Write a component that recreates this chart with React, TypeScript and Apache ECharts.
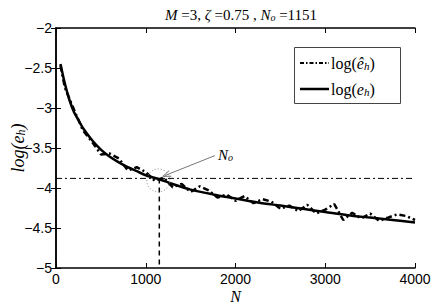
import React, { useEffect, useRef } from 'react';
import * as echarts from 'echarts';

// Smooth curve log(e_h)
const N_SMOOTH = [50, 100, 150, 200, 250, 300, 400, 500, 600, 700, 800, 900, 1000, 1151, 1300, 1500, 1750, 2000, 2250, 2500, 2750, 3000, 3250, 3500, 3750, 4000];
const LOG_EH = [-2.45, -2.70, -2.90, -3.05, -3.15, -3.25, -3.40, -3.52, -3.61, -3.68, -3.74, -3.79, -3.84, -3.89, -3.95, -4.02, -4.08, -4.13, -4.18, -4.22, -4.26, -4.30, -4.34, -4.37, -4.40, -4.43];

// Noisy estimate log(ê_h)
const N_NOISY = [50, 100, 200, 300, 400, 500, 600, 700, 800, 900, 1000, 1100, 1200, 1300, 1400, 1500, 1600, 1700, 1800, 1900, 2000, 2100, 2200, 2300, 2400, 2500, 2600, 2700, 2800, 2900, 3000, 3100, 3200, 3300, 3400, 3500, 3600, 3700, 3800, 3900, 4000];
const LOG_EH_HAT = [-2.47, -2.75, -3.02, -3.28, -3.42, -3.58, -3.57, -3.63, -3.78, -3.74, -3.80, -3.91, -3.87, -3.99, -3.95, -4.05, -3.98, -4.03, -4.12, -4.08, -4.16, -4.10, -4.19, -4.14, -4.17, -4.26, -4.22, -4.29, -4.21, -4.32, -4.27, -4.20, -4.40, -4.31, -4.38, -4.32, -4.41, -4.37, -4.33, -4.35, -4.40];

const N_O = 1151;
const THRESHOLD = -3.88;
const X_MIN = 0, X_MAX = 4000, X_STEP = 1000;
const Y_MIN = -5, Y_MAX = -2, Y_STEP = 0.5;

// annotation anchors (data coords)
const LABEL_POS = [1805, -3.59];
const ARROW_START = [1770, -3.595];
const ARROW_END = [1190, -3.855];

const SERIF = '"Liberation Serif", "DejaVu Serif", serif';
const SANS = '"Liberation Sans", Arial, sans-serif';

export default function App() {
  const ref = useRef<HTMLDivElement>(null);
  useEffect(() => {
    if (!ref.current) return;
    const chart = echarts.init(ref.current, undefined, { renderer: 'svg' });
    const minusFmt = (v: number) => String(v).replace('-', '\u2212');
    const boxAxis = {
      axisLine: { show: true, lineStyle: { color: '#000', width: 1.5 } },
      axisTick: { show: true, inside: true, length: 5, lineStyle: { color: '#000', width: 1 } },
      splitLine: { show: false },
    };
    const it = (size: number) => ({ fontFamily: SERIF, fontStyle: 'italic', fontWeight: 'normal', fontSize: size, color: '#000' });
    const sub = (size: number, lh: number) => ({ ...it(size), verticalAlign: 'bottom', lineHeight: lh });
    chart.setOption({
      animation: false,
      backgroundColor: '#fff',
      title: {
        text: '{i|M} {n|=3,} {i|\u03b6} {n|=0.75 ,} {i|N}{s|o} {n|=1151}',
        left: 236,
        textAlign: 'center',
        top: 2,
        textStyle: {
          fontFamily: SERIF,
          fontSize: 15,
          fontWeight: 'normal',
          color: '#000',
          rich: {
            i: it(15),
            n: { fontFamily: SERIF, fontWeight: 'normal', fontSize: 15, color: '#000' },
            s: sub(10, 10),
          },
        },
      },
      grid: { left: 56, right: 21, top: 28, bottom: 36, outerBoundsMode: 'none', containLabel: false },
      xAxis: [
        {
          type: 'value', min: X_MIN, max: X_MAX, interval: X_STEP, position: 'bottom',
          ...boxAxis,
          axisLabel: { fontFamily: SANS, fontSize: 14, color: '#000', margin: 4, formatter: minusFmt },
          name: '{i|N}', nameLocation: 'middle', nameGap: 20, nameMoveOverlap: false,
          nameTextStyle: { fontSize: 16, rich: { i: it(16) } },
        },
        {
          type: 'value', min: X_MIN, max: X_MAX, interval: X_STEP, position: 'top',
          ...boxAxis, axisLabel: { show: false },
        },
      ],
      yAxis: [
        {
          type: 'value', min: Y_MIN, max: Y_MAX, interval: Y_STEP, position: 'left',
          ...boxAxis,
          axisLabel: { fontFamily: SANS, fontSize: 14, color: '#000', margin: 4, formatter: minusFmt },
          name: '{i|log(e}{s|h}{i|)}', nameLocation: 'middle', nameGap: 29, nameRotate: 90, nameMoveOverlap: false,
          nameTextStyle: {
            fontSize: 18,
            rich: { i: it(18), s: sub(12, 11) },
          },
        },
        {
          type: 'value', min: Y_MIN, max: Y_MAX, interval: Y_STEP, position: 'right',
          ...boxAxis, axisLabel: { show: false },
        },
      ],
      series: [
        {
          type: 'line', name: 'threshold', symbol: 'none',
          data: [[X_MIN, THRESHOLD], [X_MAX, THRESHOLD]],
          lineStyle: { color: '#000', width: 1, type: [6, 3, 2, 3] },
          z: 1,
        },
        {
          type: 'line', name: 'No', symbol: 'none',
          data: [[N_O, THRESHOLD], [N_O, Y_MIN]],
          lineStyle: { color: '#000', width: 1.5, type: [5, 4] },
          z: 1,
        },
        {
          type: 'line', name: 'log(ê_h)', symbol: 'none',
          data: N_NOISY.map((n, i) => [n, LOG_EH_HAT[i]]),
          lineStyle: { color: '#000', width: 2.5, type: [6, 3, 2, 3] },
          z: 2,
        },
        {
          type: 'line', name: 'log(e_h)', symbol: 'none', smooth: 0.3,
          data: N_SMOOTH.map((n, i) => [n, LOG_EH[i]]),
          lineStyle: { color: '#000', width: 2.5 },
          z: 3,
        },
      ],
    });

    const px = (p: number[]) => chart.convertToPixel({ xAxisIndex: 0, yAxisIndex: 0 }, p) as number[];
    const c = px([N_O, THRESHOLD]);
    const lp = px(LABEL_POS);
    const a0 = px(ARROW_START);
    const a1 = px(ARROW_END);
    const dx = a1[0] - a0[0], dy = a1[1] - a0[1];
    const len = Math.hypot(dx, dy);
    const ux = dx / len, uy = dy / len;
    const hl = 8, hw = 3;
    const head = [
      [a1[0] - ux * hl - uy * hw, a1[1] - uy * hl + ux * hw],
      [a1[0], a1[1]],
      [a1[0] - ux * hl + uy * hw, a1[1] - uy * hl - ux * hw],
    ];

    chart.setOption({
      graphic: [
        {
          type: 'circle', shape: { cx: c[0] - 1, cy: c[1] + 1, r: 11.5 },
          style: { fill: 'none', stroke: '#888', lineWidth: 1, lineDash: [1, 2] }, z: 10,
        },
        {
          type: 'line', shape: { x1: a0[0], y1: a0[1], x2: a1[0] - ux * 2, y2: a1[1] - uy * 2 },
          style: { stroke: '#777', lineWidth: 1 }, z: 10,
        },
        {
          type: 'polyline', shape: { points: head },
          style: { stroke: '#777', lineWidth: 1, fill: 'none' }, z: 10,
        },
        {
          type: 'text', x: lp[0], y: lp[1],
          style: {
            text: '{i|N}{s|o}', fill: '#000', verticalAlign: 'middle', align: 'left',
            rich: {
              i: { fontFamily: SERIF, fontStyle: 'italic', fontSize: 15, fill: '#000' },
              s: { fontFamily: SERIF, fontStyle: 'italic', fontSize: 10, fill: '#000', verticalAlign: 'bottom', lineHeight: 9 },
            },
          },
          z: 10,
        },
        // legend
        {
          type: 'rect', shape: { x: 294.5, y: 47.5, width: 106, height: 56 },
          style: { fill: '#fff', stroke: '#444', lineWidth: 1 }, z: 20,
        },
        {
          type: 'line', shape: { x1: 300, y1: 63, x2: 329, y2: 63 },
          style: { stroke: '#000', lineWidth: 2, lineDash: [4, 2, 1.5, 2] }, z: 21,
        },
        {
          type: 'line', shape: { x1: 300, y1: 89, x2: 329, y2: 89 },
          style: { stroke: '#000', lineWidth: 2.5 }, z: 21,
        },
        {
          type: 'text', x: 331, y: 63,
          style: {
            text: '{n|log(}{e|\u00ea}{s|h}{n|)}', verticalAlign: 'middle', align: 'left',
            rich: {
              n: { fontFamily: SERIF, fontSize: 16, fill: '#000' },
              e: { fontFamily: SERIF, fontStyle: 'italic', fontSize: 16, fill: '#000' },
              s: { fontFamily: SERIF, fontStyle: 'italic', fontSize: 11, fill: '#000', verticalAlign: 'bottom', lineHeight: 10 },
            },
          },
          z: 21,
        },
        {
          type: 'text', x: 331, y: 89,
          style: {
            text: '{n|log(}{e|e}{s|h}{n|)}', verticalAlign: 'middle', align: 'left',
            rich: {
              n: { fontFamily: SERIF, fontSize: 16, fill: '#000' },
              e: { fontFamily: SERIF, fontStyle: 'italic', fontSize: 16, fill: '#000' },
              s: { fontFamily: SERIF, fontStyle: 'italic', fontSize: 11, fill: '#000', verticalAlign: 'bottom', lineHeight: 10 },
            },
          },
          z: 21,
        },
      ],
    });

    return () => chart.dispose();
  }, []);
  return <div ref={ref} style={{ width: 436, height: 304, position: 'absolute', left: 0, top: 0 }} />;
}
